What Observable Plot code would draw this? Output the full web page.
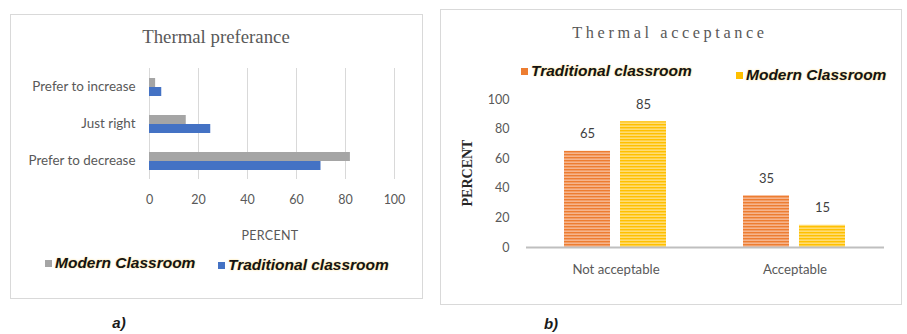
<!DOCTYPE html>
<html>
<head>
<meta charset="utf-8">
<script src="https://cdn.jsdelivr.net/npm/d3@7"></script>
<script src="https://cdn.jsdelivr.net/npm/@observablehq/plot@0.6"></script>
<style>
  html, body { margin: 0; padding: 0; background: #fff; }
  body { width: 907px; height: 334px; position: relative; overflow: hidden; font-family: Lato, "Open Sans", sans-serif; }
  .box { position: absolute; border: 1px solid #d9d9d9; box-sizing: border-box; }
  .abs { position: absolute; white-space: nowrap; }
  .title { font-family: "Liberation Serif", "DejaVu Serif", serif; color: #595959; transform: translate(-50%, -50%); }
  .leg { display: flex; align-items: center; height: 22px; font-family: "Liberation Sans", Arial, sans-serif; font-weight: bold; font-style: italic; font-size: 15.5px; color: #141414; text-shadow: 0 0 2px rgba(255, 190, 0, 0.55); }
  .sw { display: inline-block; width: 7px; height: 7px; margin-right: 3px; }
  .plot { position: absolute; }
  .cap { font-family: "Liberation Sans", Arial, sans-serif; font-weight: bold; font-style: italic; font-size: 15px; color: #1a1a1a; transform: translate(-50%, -50%); }
</style>
</head>
<body>
<div class="box" style="left:10px;top:14px;width:413px;height:285px"></div>
<div class="box" style="left:440px;top:9px;width:462px;height:296px"></div>
<div id="left" class="plot" style="left:10px;top:60px"></div>
<div id="right" class="plot" style="left:440px;top:85px"></div>
<div class="abs title" style="left:216px;top:37px;font-size:18.8px">Thermal preferance</div>
<div class="abs title" style="left:670px;top:33px;font-size:16.3px;letter-spacing:3.6px">Thermal acceptance</div>
<div class="abs" style="left:270px;top:235px;transform:translate(-50%,-50%);font-size:12.5px;color:#595959;letter-spacing:0.3px">PERCENT</div>
<div class="abs" style="left:468px;top:173px;transform:translate(-50%,-50%) rotate(-90deg);font-family:'Liberation Serif',serif;font-weight:bold;font-size:14px;color:#262626">PERCENT</div>
<div id="legL1" class="abs leg" style="left:45px;top:252px"></div>
<div id="legL2" class="abs leg" style="left:218px;top:254px"></div>
<div id="legR1" class="abs leg" style="left:521px;top:60px"></div>
<div id="legR2" class="abs leg" style="left:736px;top:64px"></div>
<div class="abs cap" style="left:119px;top:322px">a)</div>
<div class="abs cap" style="left:551px;top:323px">b)</div>
<script>
// ---- Panel a) Thermal preference ----
const prefCategories = ["Prefer to increase", "Just right", "Prefer to decrease"];
const prefSeries = ["Modern Classroom", "Traditional classroom"];
const prefModern = [2.5, 15, 82];
const prefTraditional = [5, 25, 70];
const prefTicks = [0, 20, 40, 60, 80, 100];
const prefColors = ["#a5a5a5", "#4472c4"];

// ---- Panel b) Thermal acceptance ----
const accCategories = ["Not acceptable", "Acceptable"];
const accSeries = ["Traditional classroom", "Modern Classroom"];
const accTraditional = [65, 35];
const accModern = [85, 15];
const accTicks = [0, 20, 40, 60, 80, 100];
const accBase = ["#ed7d31", "#ffc000"];
const accLight = ["#f6b48c", "#ffdc73"];

const prefData = prefCategories.flatMap((c, i) => [
  {category: c, series: prefSeries[0], value: prefModern[i]},
  {category: c, series: prefSeries[1], value: prefTraditional[i]}
]);
const accData = accCategories.flatMap((c, i) => [
  {category: c, series: accSeries[0], value: accTraditional[i]},
  {category: c, series: accSeries[1], value: accModern[i]}
]);

const leftPlot = Plot.plot({
  width: 413, height: 150,
  marginLeft: 139, marginRight: 29, marginTop: 7, marginBottom: 30,
  style: {fontFamily: "Lato, 'Open Sans', sans-serif", fontSize: "12.5px", color: "#595959", background: "transparent"},
  fy: {domain: prefCategories, padding: 0},
  y: {domain: prefSeries, paddingInner: 0, paddingOuter: 0.88, axis: null},
  x: {domain: [0, 100]},
  color: {domain: prefSeries, range: prefColors},
  marks: [
    Plot.gridX(prefTicks, {stroke: "#d9d9d9", strokeOpacity: 1, strokeWidth: 1}),
    Plot.barX(prefData, {fy: "category", y: "series", x: "value", fill: "series"}),
    Plot.axisX({ticks: prefTicks, tickSize: 0, tickPadding: 16, label: null, fill: "#595959"}),
    Plot.axisFy({anchor: "left", tickSize: 0, tickPadding: 14, label: null, fill: "#595959", fontSize: 13.4})
  ]
});
document.getElementById("left").appendChild(leftPlot);

const patIds = accSeries.map((s, i) => "stripe" + i);
const rightPlot = Plot.plot({
  width: 462, height: 200,
  marginLeft: 85, marginRight: 18, marginTop: 14, marginBottom: 38,
  style: {fontFamily: "Lato, 'Open Sans', sans-serif", fontSize: "12.5px", color: "#595959", background: "transparent"},
  fx: {domain: accCategories, padding: 0},
  x: {domain: accSeries, paddingInner: 0.175, paddingOuter: 0.662, axis: null},
  y: {domain: [0, 100]},
  color: {domain: accSeries, range: patIds.map(id => `url(#${id})`)},
  marks: [
    Plot.barY(accData, {fx: "category", x: "series", y: "value", fill: "series"}),
    Plot.ruleY([0], {stroke: "#bfbfbf", strokeWidth: 2}),
    Plot.text(accData, {fx: "category", x: "series", y: "value", text: d => String(d.value), dy: -17, fill: "#404040", fontSize: 13}),
    Plot.axisY({ticks: accTicks, tickSize: 0, tickPadding: 17, label: null, fill: "#595959"}),
    Plot.axisFx({anchor: "bottom", tickSize: 0, tickPadding: 17, label: null, fill: "#595959", fontSize: 13.2})
  ]
});
// stripe patterns
const ns = "http://www.w3.org/2000/svg";
const defs = document.createElementNS(ns, "defs");
patIds.forEach((id, i) => {
  const p = document.createElementNS(ns, "pattern");
  p.setAttribute("id", id);
  p.setAttribute("patternUnits", "userSpaceOnUse");
  p.setAttribute("width", "8");
  p.setAttribute("height", "3");
  const r1 = document.createElementNS(ns, "rect");
  r1.setAttribute("width", "8"); r1.setAttribute("height", "3"); r1.setAttribute("fill", accLight[i]);
  const r2 = document.createElementNS(ns, "rect");
  r2.setAttribute("width", "8"); r2.setAttribute("height", "1.4"); r2.setAttribute("fill", accBase[i]);
  p.appendChild(r1); p.appendChild(r2);
  defs.appendChild(p);
});
rightPlot.insertBefore(defs, rightPlot.firstChild);
document.getElementById("right").appendChild(rightPlot);

// legends
function legend(el, color, label) {
  const node = document.getElementById(el);
  const sw = document.createElement("span");
  sw.className = "sw";
  sw.style.background = color;
  node.appendChild(sw);
  node.appendChild(document.createTextNode(label));
}
legend("legL1", prefColors[0], prefSeries[0]);
legend("legL2", prefColors[1], " " + prefSeries[1]);
legend("legR1", accBase[0], accSeries[0]);
legend("legR2", accBase[1], accSeries[1]);
</script>
</body>
</html>
